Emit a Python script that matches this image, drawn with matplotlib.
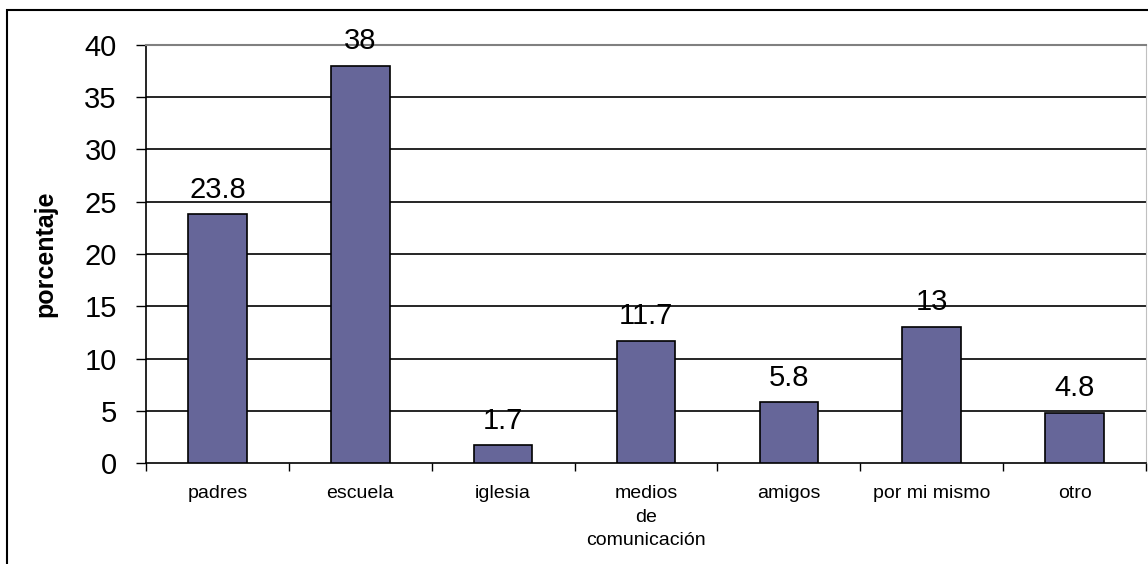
import matplotlib
matplotlib.use('Agg')
import matplotlib.pyplot as plt
from matplotlib.patches import Rectangle

# dati
categorie = ['padres', 'escuela', 'iglesia', 'medios\nde\ncomunicación',
             'amigos', 'por mi mismo', 'otro']
valori = [23.8, 38, 1.7, 11.7, 5.8, 13, 4.8]
etichette = ['23.8', '38', '1.7', '11.7', '5.8', '13', '4.8']
yticks = [0, 5, 10, 15, 20, 25, 30, 35, 40]

plt.rcParams['font.family'] = ['Liberation Sans', 'DejaVu Sans']

fig = plt.figure(figsize=(11.48, 5.64), dpi=100)
ax = fig.add_axes([146 / 1148, 1 - 463 / 564, 1000 / 1148, 418 / 564])

x = range(len(categorie))
ax.bar(x, valori, width=0.41, color='#666699', edgecolor='black', linewidth=1.2, zorder=3)

for xi, v, t in zip(x, valori, etichette):
    ax.annotate(t, (xi, v), xytext=(0, 12), textcoords='offset points',
                ha='center', va='baseline', fontsize=21, zorder=4)

ax.set_xlim(-0.5, len(categorie) - 0.5)
ax.set_ylim(0, 40)
ax.set_yticks(yticks)
ax.tick_params(axis='y', labelsize=21, length=7, width=1, direction='out', pad=14)

# etichette categorie e tacche ai bordi delle categorie
ax.set_xticks(list(x))
ax.set_xticklabels(categorie, fontsize=14, linespacing=1.5)
ax.tick_params(axis='x', which='major', length=0, pad=16)
ax.set_xticks([i - 0.5 for i in range(len(categorie) + 1)], minor=True)
ax.tick_params(axis='x', which='minor', length=6, width=1, direction='out')

for yv in yticks[1:-1]:
    ax.axhline(yv, color='black', linewidth=1.2, zorder=1)

ax.spines['left'].set_linewidth(1.2)
ax.spines['bottom'].set_linewidth(1.2)
ax.spines['top'].set_color('#808080')
ax.spines['top'].set_linewidth(1.5)
ax.spines['right'].set_color('#c0c0c0')

ax.set_ylabel('porcentaje', fontsize=18, fontweight='bold')
ax.yaxis.set_label_coords(-89 / 1000, 0.5)

# cornice del grafico
fig.patches.append(Rectangle((7 / 1148, -0.05), 1.2, 0.05 + 1 - 10 / 564,
                             transform=fig.transFigure, fill=False,
                             edgecolor='black', linewidth=1.5))

fig.savefig('out.png', dpi=100)
